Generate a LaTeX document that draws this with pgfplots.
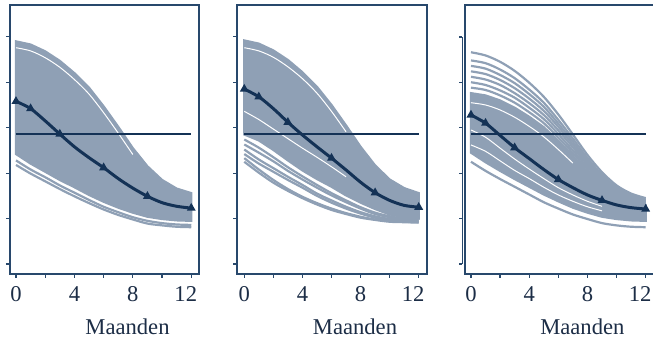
\documentclass[border=0pt]{standalone}
\usepackage{pgfplots}
\pgfplotsset{compat=1.18}
\usepackage{fontspec}
\setmainfont{Liberation Serif}
\definecolor{gc}{RGB}{143,160,181}
\definecolor{navy}{RGB}{20,50,86}
\definecolor{fr}{RGB}{40,72,108}
\definecolor{txt}{RGB}{28,45,70}
\pgfplotsset{
 panel/.style={scale only axis, height=134.5pt, ymin=-0.22, ymax=5.70,
   axis line style={fr, line width=0.7pt},
   xtick={0,2,...,12}, xticklabels={0,,4,,8,,\hspace*{-5.5pt}12},
   ytick={0,...,5}, yticklabels={},
   xtick pos=bottom, ytick pos=left, tick align=outside,
   major tick length=2pt, tick style={fr, line width=0.6pt},
   xticklabel style={font=\fontsize{11.3}{13}\selectfont, text=txt, anchor=base, yshift=-11.8pt},
   xlabel={Maanden},
   xlabel style={at={(axis description cs:0.5,0)}, anchor=base, yshift=-30.5pt, xshift=11.5pt, font=\fontsize{11.3}{13}\selectfont, text=txt},
   /pgf/number format/assume math mode=true,
 },
 gl/.style={gc, line width=1.1pt, smooth, no marks},
 wl/.style={white, line width=0.5pt, smooth, no marks},
 blk/.style={fill=gc, draw=gc, line width=1.1pt, no marks},
 mn/.style={navy, line width=1.5pt, smooth, mark=triangle*, mark size=1.1pt, mark options={solid}, mark indices={1,2,4,7,10,13}},
 hl/.style={navy, line width=0.6pt, no marks},
}
\begin{document}
\begin{tikzpicture}
\useasboundingbox (0,0) rectangle (326.5pt,171pt);
% ---------------- panel 1
\begin{axis}[panel, at={(5pt,34pt)}, anchor=south west, width=94.5pt, xmin=-0.41, xmax=12.53]
\addplot[blk] coordinates {(0,4.90)(1,4.83)(2,4.68)(3,4.47)(4,4.20)(5,3.88)(6,3.47)(7,3.02)(8,2.55)(9,2.15)(10,1.85)(11,1.66)(12,1.56)
 (12,0.95)(11,0.96)(10,0.99)(9,1.04)(8,1.13)(7,1.24)(6,1.37)(5,1.52)(4,1.69)(3,1.85)(2,2.03)(1,2.21)(0,2.42)} -- cycle;
\addplot[gl] coordinates {(0,2.28)(1,2.08)(2,1.91)(3,1.73)(4,1.57)(5,1.41)(6,1.26)(7,1.14)(8,1.03)(9,0.95)(10,0.90)(11,0.87)(12,0.86)};
\addplot[gl] coordinates {(0,2.18)(1,1.99)(2,1.82)(3,1.65)(4,1.49)(5,1.34)(6,1.20)(7,1.08)(8,0.98)(9,0.89)(10,0.85)(11,0.82)(12,0.81)};
\addplot[wl] coordinates {(0,4.76)(1,4.69)(2,4.54)(3,4.33)(4,4.06)(5,3.74)(6,3.33)(7,2.88)(8,2.41)};
\addplot[hl] coordinates {(0,2.86)(12,2.86)};
\addplot[mn] coordinates {(0,3.58)(1,3.42)(2,3.15)(3,2.86)(4,2.58)(5,2.34)(6,2.12)(7,1.88)(8,1.67)(9,1.49)(10,1.35)(11,1.27)(12,1.23)};
\end{axis}
% ---------------- panel 2
\begin{axis}[panel, at={(118.5pt,34pt)}, anchor=south west, width=95pt, xmin=-0.50, xmax=12.57]
\addplot[blk] coordinates {(0,4.92)(1,4.85)(2,4.70)(3,4.49)(4,4.22)(5,3.90)(6,3.50)(7,3.05)(8,2.58)(9,2.17)(10,1.86)(11,1.67)(12,1.56)
 (12,1.00)(11,1.03)(10,1.09)(9,1.21)(8,1.35)(7,1.51)(6,1.70)(5,1.87)(4,2.06)(3,2.28)(2,2.51)(1,2.72)(0,2.85)} -- cycle;
\addplot[gl] coordinates {(0,2.74)(1,2.56)(2,2.35)(3,2.13)(4,1.93)(5,1.74)(6,1.56)(7,1.40)(8,1.25)(9,1.13)(10,1.05)(11,1.00)(12,0.98)};
\addplot[gl] coordinates {(0,2.63)(1,2.45)(2,2.26)(3,2.05)(4,1.86)(5,1.68)(6,1.51)(7,1.36)(8,1.22)(9,1.10)(10,1.03)(11,0.98)(12,0.96)};
\addplot[gl] coordinates {(0,2.52)(1,2.30)(2,2.11)(3,1.92)(4,1.74)(5,1.55)(6,1.40)(7,1.26)(8,1.14)(9,1.05)(10,0.99)(11,0.96)(12,0.95)};
\addplot[gl] coordinates {(0,2.42)(1,2.21)(2,2.03)(3,1.85)(4,1.68)(5,1.50)(6,1.35)(7,1.22)(8,1.11)(9,1.02)(10,0.97)(11,0.94)(12,0.93)};
\addplot[gl] coordinates {(0,2.33)(1,2.08)(2,1.85)(3,1.65)(4,1.48)(5,1.34)(6,1.22)(7,1.12)(8,1.04)(9,0.98)(10,0.95)(11,0.93)(12,0.92)};
\addplot[gl] coordinates {(0,2.25)(1,2.01)(2,1.79)(3,1.61)(4,1.45)(5,1.31)(6,1.19)(7,1.10)(8,1.02)(9,0.97)(10,0.93)(11,0.92)(12,0.91)};
\addplot[wl] coordinates {(0,4.76)(1,4.69)(2,4.55)(3,4.34)(4,4.08)(5,3.76)(6,3.36)(7,2.91)};
\addplot[wl] coordinates {(0,3.36)(1,3.18)(2,2.97)(3,2.76)(4,2.55)(5,2.35)(6,2.14)(7,1.92)};
\addplot[hl] coordinates {(0,2.86)(12,2.86)};
\addplot[mn] coordinates {(0,3.85)(1,3.68)(2,3.42)(3,3.12)(4,2.84)(5,2.58)(6,2.33)(7,2.07)(8,1.80)(9,1.57)(10,1.40)(11,1.29)(12,1.25)};
\end{axis}
% ---------------- panel 3 (separate y axis line)
\begin{axis}[at={(231.15pt,39pt)}, anchor=south west, scale only axis, width=2pt, height=113.5pt,
  ymin=0, ymax=5, xmin=0, xmax=1, axis y line*=left, axis x line=none,
  ytick={0,...,5}, yticklabels={}, tick align=outside, major tick length=1.6pt,
  axis line style={-, fr, line width=0.7pt}, tick style={fr, line width=0.6pt}]
\addplot[draw=none, no marks] coordinates {(0,0)};
\end{axis}
\begin{axis}[panel, at={(232.5pt,34pt)}, anchor=south west, width=94.35pt, xmin=-0.41, xmax=12.55, ytick=\empty]
\addplot[blk] coordinates {(0,3.76)(1,3.71)(2,3.60)(3,3.44)(4,3.24)(5,3.01)(6,2.71)(7,2.38)(8,2.03)(9,1.74)(10,1.51)(11,1.37)(12,1.30)
 (12,0.95)(11,0.96)(10,0.99)(9,1.04)(8,1.13)(7,1.24)(6,1.38)(5,1.53)(4,1.70)(3,1.87)(2,2.05)(1,2.24)(0,2.45)} -- cycle;
\addplot[gl] coordinates {(0,4.66)(1,4.59)(2,4.45)(3,4.25)(4,3.99)(5,3.68)(6,3.29)(7,2.85)(8,2.40)(9,2.02)(10,1.73)(11,1.55)(12,1.45)};
\addplot[gl] coordinates {(0,4.48)(1,4.42)(2,4.28)(3,4.09)(4,3.84)(5,3.55)(6,3.17)(7,2.76)(8,2.33)(9,1.96)(10,1.69)(11,1.51)(12,1.42)};
\addplot[gl] coordinates {(0,4.36)(1,4.30)(2,4.16)(3,3.98)(4,3.74)(5,3.46)(6,3.09)(7,2.69)(8,2.28)(9,1.92)(10,1.66)(11,1.49)(12,1.40)};
\addplot[gl] coordinates {(0,4.24)(1,4.18)(2,4.05)(3,3.87)(4,3.64)(5,3.37)(6,3.02)(7,2.63)(8,2.23)(9,1.89)(10,1.63)(11,1.47)(12,1.38)};
\addplot[gl] coordinates {(0,4.12)(1,4.06)(2,3.94)(3,3.76)(4,3.54)(5,3.28)(6,2.94)(7,2.57)(8,2.18)(9,1.85)(10,1.60)(11,1.44)(12,1.36)};
\addplot[gl] coordinates {(0,4.00)(1,3.94)(2,3.82)(3,3.66)(4,3.44)(5,3.19)(6,2.86)(7,2.50)(8,2.13)(9,1.81)(10,1.57)(11,1.42)(12,1.34)};
\addplot[gl] coordinates {(0,3.88)(1,3.83)(2,3.71)(3,3.55)(4,3.34)(5,3.10)(6,2.78)(7,2.44)(8,2.08)(9,1.77)(10,1.54)(11,1.40)(12,1.32)};
\addplot[gl] coordinates {(0,2.25)(1,2.05)(2,1.87)(3,1.70)(4,1.53)(5,1.36)(6,1.22)(7,1.09)(8,0.99)(9,0.90)(10,0.85)(11,0.82)(12,0.81)};
\addplot[wl] coordinates {(0,3.55)(1,3.50)(2,3.39)(3,3.23)(4,3.03)(5,2.80)(6,2.52)(7,2.22)};
\addplot[wl] coordinates {(0,2.95)(1,2.79)(2,2.55)(3,2.31)(4,2.09)(5,1.88)(6,1.68)(7,1.52)(8,1.38)(9,1.27)};
\addplot[wl] coordinates {(0,2.62)(1,2.48)(2,2.27)(3,2.06)(4,1.88)(5,1.69)(6,1.52)(7,1.38)(8,1.26)(9,1.17)};
\addplot[hl] coordinates {(0,2.86)(12,2.86)};
\addplot[mn] coordinates {(0,3.28)(1,3.10)(2,2.83)(3,2.56)(4,2.32)(5,2.08)(6,1.86)(7,1.68)(8,1.52)(9,1.40)(10,1.30)(11,1.24)(12,1.21)};
\end{axis}
\end{tikzpicture}
\end{document}
